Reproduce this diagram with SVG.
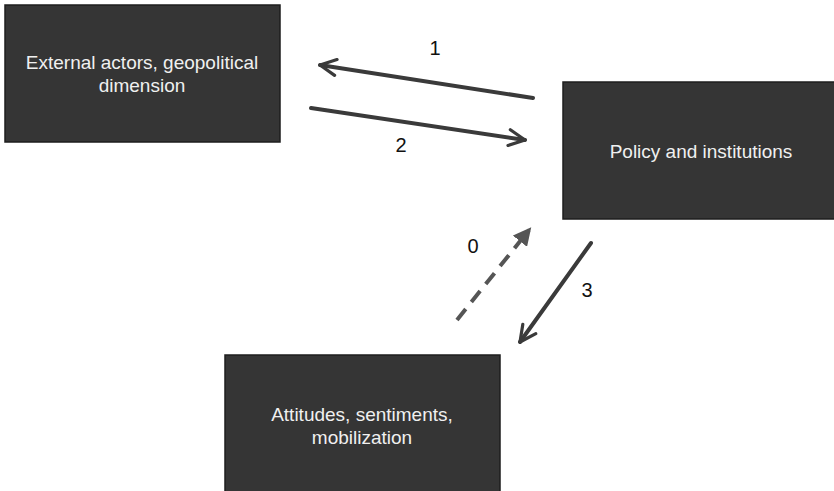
<svg xmlns="http://www.w3.org/2000/svg" width="834" height="491" viewBox="0 0 834 491">
<style>
.box{fill:#353535;stroke:#1e1e1e;stroke-width:1.5}
.lbl{font-family:"Liberation Sans",Arial,sans-serif;font-size:19px;fill:#f0f0f0;text-anchor:middle}
.num{font-family:"Liberation Sans",Arial,sans-serif;font-size:20px;fill:#111;text-anchor:middle}
.ln{stroke:#3a3a3a;stroke-width:4;fill:none;stroke-linecap:round}
.dash{stroke:#555;stroke-width:4;fill:none;stroke-dasharray:14 9}
</style>
<defs>
<marker id="chev" viewBox="0 0 10 10" refX="9" refY="5" markerWidth="5" markerHeight="5" orient="auto" markerUnits="strokeWidth">
<path d="M1,1 L9,5 L1,9" fill="none" stroke="#3a3a3a" stroke-width="1.6" stroke-linecap="round" stroke-linejoin="round"/>
</marker>
<marker id="tri" viewBox="0 0 10 10" refX="8" refY="5" markerWidth="4.5" markerHeight="4.5" orient="auto" markerUnits="strokeWidth">
<path d="M0,0 L10,5 L0,10 Z" fill="#555"/>
</marker>
</defs>
<g id="node-external">
<rect class="box" x="5" y="5" width="275" height="137"/>
<text class="lbl" x="142" y="69">External actors, geopolitical</text>
<text class="lbl" x="142" y="92">dimension</text>
</g>
<g id="node-policy">
<rect class="box" x="563" y="82" width="275" height="137"/>
<text class="lbl" x="701" y="158">Policy and institutions</text>
</g>
<g id="node-attitudes">
<rect class="box" x="225" y="355" width="275" height="140"/>
<text class="lbl" x="362" y="421">Attitudes, sentiments,</text>
<text class="lbl" x="362" y="444">mobilization</text>
</g>
<g id="connectors">
<line class="ln" x1="533" y1="98" x2="320" y2="65" marker-end="url(#chev)"/>
<line class="ln" x1="311" y1="108" x2="525" y2="140" marker-end="url(#chev)"/>
<line class="dash" x1="457" y1="320" x2="529" y2="230" marker-end="url(#tri)"/>
<line class="ln" x1="591" y1="243" x2="520" y2="342" marker-end="url(#chev)"/>
<text class="num" x="435" y="55">1</text>
<text class="num" x="401" y="152">2</text>
<text class="num" x="473" y="253">0</text>
<text class="num" x="587" y="297">3</text>
</g>
</svg>
